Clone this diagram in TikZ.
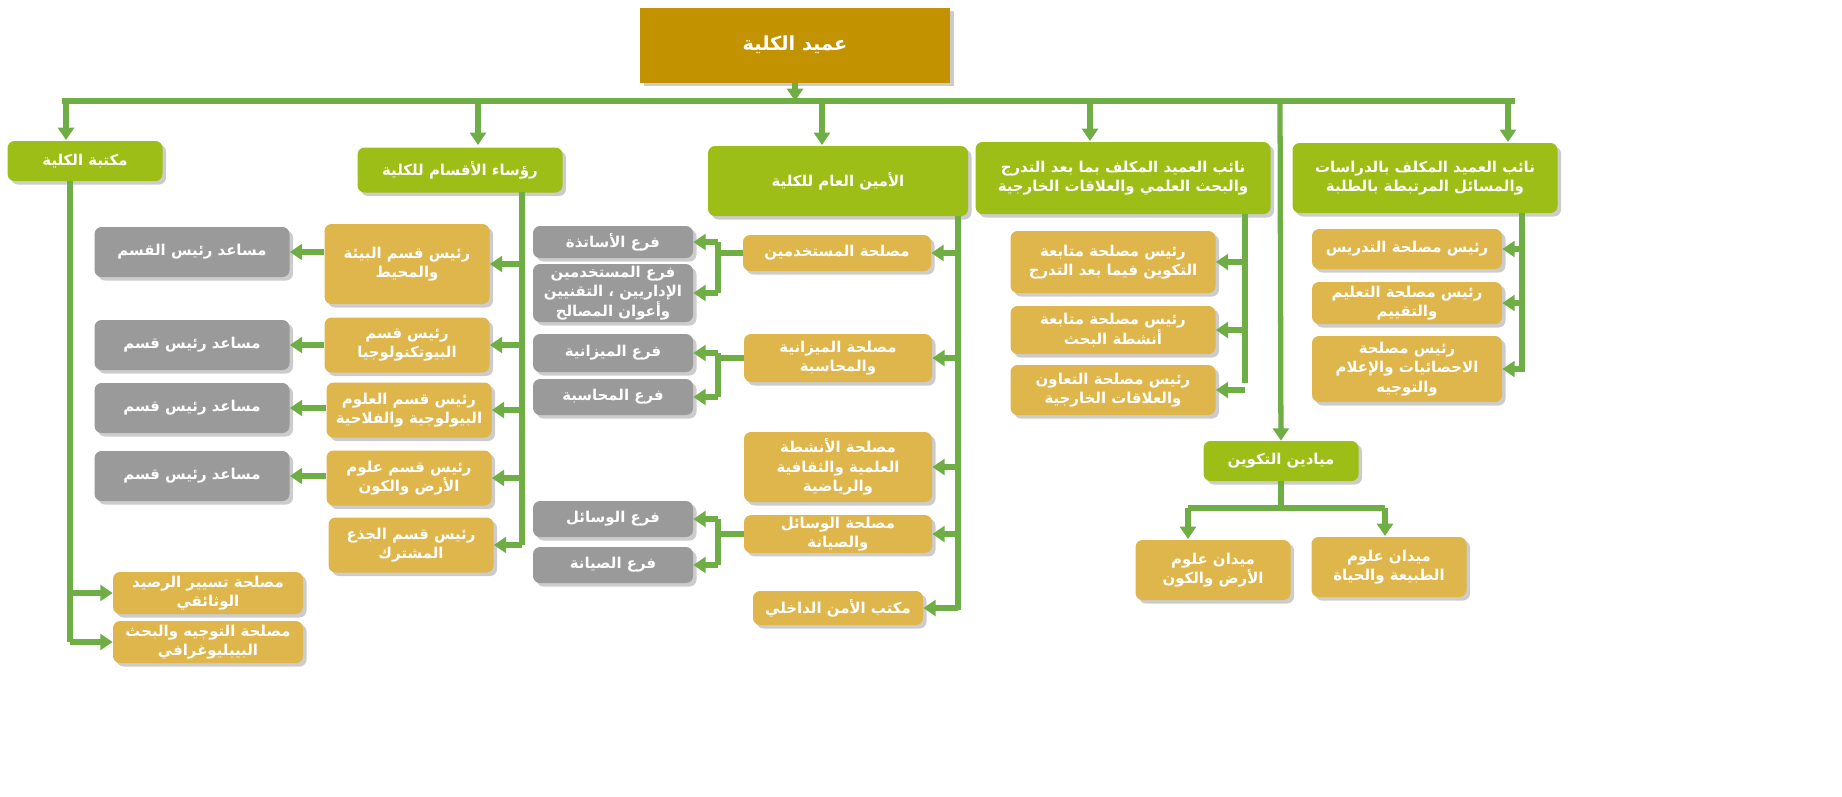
\documentclass[tikz,border=0pt]{standalone}
\usepackage{fontspec}
\newfontfamily\arfont[Script=Arabic]{DejaVu Sans}
\usetikzlibrary{arrows.meta}
\TeXXeTstate=1
\newcommand{\ar}[1]{\beginR #1\endR}
\definecolor{deangold}{HTML}{C29200}
\definecolor{leafgreen}{HTML}{9DBE16}
\definecolor{boxgold}{HTML}{DEB64C}
\definecolor{boxgray}{HTML}{9A9A9A}
\definecolor{linegreen}{HTML}{6FAD45}

\begin{document}
\begin{tikzpicture}[x=0.02cm,y=-0.02cm,>/.tip={Triangle[length=7pt,width=9pt]},
	box/.style={draw=none,rounded corners=4pt,align=center,text=white,font=\arfont\bfseries\fontsize{8.5}{11}\selectfont,preaction={fill=black,opacity=0.2,transform canvas={xshift=2pt,yshift=-2pt}},inner sep=1pt},
	head/.style={box,fill=leafgreen},
	unit/.style={box,fill=boxgold},
	branch/.style={box,fill=boxgray},
	link/.style={draw=linegreen,line width=3pt}]
	\useasboundingbox (0,0) rectangle (1842,796);

	\draw (795,45) node (dean) [box,fill=deangold,rounded corners=0pt,minimum width=310*0.02cm,minimum height=75*0.02cm,font=\arfont\bfseries\fontsize{11}{13}\selectfont] {\ar{عميد الكلية}};

	\draw (85,161) node (lib) [head,minimum width=155*0.02cm,minimum height=40*0.02cm] {\ar{مكتبة الكلية}};
	\draw (460,170) node (heads) [head,minimum width=205*0.02cm,minimum height=45*0.02cm] {\ar{رؤساء الأقسام للكلية}};
	\draw (838,181) node (sg) [head,minimum width=260*0.02cm,minimum height=70*0.02cm] {\ar{الأمين العام للكلية}};
	\draw (1123,178) node (vpg) [head,minimum width=295*0.02cm,minimum height=72*0.02cm] {\ar{نائب العميد المكلف بما بعد التدرج}\\\ar{والبحث العلمي والعلاقات الخارجية}};
	\draw (1425,178) node (vst) [head,minimum width=265*0.02cm,minimum height=70*0.02cm] {\ar{نائب العميد المكلف بالدراسات}\\\ar{والمسائل المرتبطة بالطلبة}};
	\draw (1281,461) node (dom) [head,minimum width=155*0.02cm,minimum height=40*0.02cm] {\ar{ميادين التكوين}};

	% departments
	\draw (407,264) node (d1) [unit,minimum width=165*0.02cm,minimum height=80*0.02cm] {\ar{رئيس قسم البيئة}\\\ar{والمحيط}};
	\draw (407,345) node (d2) [unit,minimum width=165*0.02cm,minimum height=55*0.02cm] {\ar{رئيس قسم}\\\ar{البيوتكنولوجيا}};
	\draw (409,410) node (d3) [unit,minimum width=165*0.02cm,minimum height=55*0.02cm] {\ar{رئيس قسم العلوم}\\\ar{البيولوجية والفلاحية}};
	\draw (409,478) node (d4) [unit,minimum width=165*0.02cm,minimum height=55*0.02cm] {\ar{رئيس قسم علوم}\\\ar{الأرض والكون}};
	\draw (411,545) node (d5) [unit,minimum width=165*0.02cm,minimum height=55*0.02cm] {\ar{رئيس قسم الجذع}\\\ar{المشترك}};
	\draw (192,252) node (a1) [branch,minimum width=195*0.02cm,minimum height=50*0.02cm] {\ar{مساعد رئيس القسم}};
	\draw (192,345) node (a2) [branch,minimum width=195*0.02cm,minimum height=50*0.02cm] {\ar{مساعد رئيس قسم}};
	\draw (192,408) node (a3) [branch,minimum width=195*0.02cm,minimum height=50*0.02cm] {\ar{مساعد رئيس قسم}};
	\draw (192,476) node (a4) [branch,minimum width=195*0.02cm,minimum height=50*0.02cm] {\ar{مساعد رئيس قسم}};

	% library services
	\draw (208,593) node (l1) [unit,minimum width=190*0.02cm,minimum height=42*0.02cm] {\ar{مصلحة تسيير الرصيد}\\\ar{الوثائقي}};
	\draw (208,642) node (l2) [unit,minimum width=190*0.02cm,minimum height=42*0.02cm] {\ar{مصلحة التوجيه والبحث}\\\ar{البيبليوغرافي}};

	% secretary services
	\draw (837,253) node (s1) [unit,minimum width=188*0.02cm,minimum height=36*0.02cm] {\ar{مصلحة المستخدمين}};
	\draw (838,358) node (s2) [unit,minimum width=188*0.02cm,minimum height=48*0.02cm] {\ar{مصلحة الميزانية}\\\ar{والمحاسبة}};
	\draw (838,467) node (s3) [unit,minimum width=188*0.02cm,minimum height=70*0.02cm] {\ar{مصلحة الأنشطة}\\\ar{العلمية والثقافية}\\\ar{والرياضية}};
	\draw (838,534) node (s4) [unit,minimum width=188*0.02cm,minimum height=36*0.02cm] {\ar{مصلحة الوسائل}\\\ar{والصيانة}};
	\draw (838,608) node (s5) [unit,minimum width=170*0.02cm,minimum height=34*0.02cm] {\ar{مكتب الأمن الداخلي}};
	\draw (613,242) node (b1) [branch,minimum width=160*0.02cm,minimum height=32*0.02cm] {\ar{فرع الأساتذة}};
	\draw (613,293) node (b2) [branch,minimum width=160*0.02cm,minimum height=58*0.02cm] {\ar{فرع المستخدمين}\\\ar{الإداريين ، التقنيين}\\\ar{وأعوان المصالح}};
	\draw (613,353) node (b3) [branch,minimum width=160*0.02cm,minimum height=38*0.02cm] {\ar{فرع الميزانية}};
	\draw (613,397) node (b4) [branch,minimum width=160*0.02cm,minimum height=36*0.02cm] {\ar{فرع المحاسبة}};
	\draw (613,519) node (b5) [branch,minimum width=160*0.02cm,minimum height=36*0.02cm] {\ar{فرع الوسائل}};
	\draw (613,565) node (b6) [branch,minimum width=160*0.02cm,minimum height=36*0.02cm] {\ar{فرع الصيانة}};

	% post-graduation
	\draw (1113,262) node (p1) [unit,minimum width=205*0.02cm,minimum height=62*0.02cm] {\ar{رئيس مصلحة متابعة}\\\ar{التكوين فيما بعد التدرج}};
	\draw (1113,330) node (p2) [unit,minimum width=205*0.02cm,minimum height=48*0.02cm] {\ar{رئيس مصلحة متابعة}\\\ar{أنشطة البحث}};
	\draw (1113,390) node (p3) [unit,minimum width=205*0.02cm,minimum height=50*0.02cm] {\ar{رئيس مصلحة التعاون}\\\ar{والعلاقات الخارجية}};

	% studies
	\draw (1407,249) node (t1) [unit,minimum width=190*0.02cm,minimum height=40*0.02cm] {\ar{رئيس مصلحة التدريس}};
	\draw (1407,303) node (t2) [unit,minimum width=190*0.02cm,minimum height=42*0.02cm] {\ar{رئيس مصلحة التعليم}\\\ar{والتقييم}};
	\draw (1407,369) node (t3) [unit,minimum width=190*0.02cm,minimum height=66*0.02cm] {\ar{رئيس مصلحة}\\\ar{الاحصائيات والإعلام}\\\ar{والتوجيه}};

	% domains
	\draw (1213,570) node (f1) [unit,minimum width=155*0.02cm,minimum height=60*0.02cm] {\ar{ميدان علوم}\\\ar{الأرض والكون}};
	\draw (1389,567) node (f2) [unit,minimum width=155*0.02cm,minimum height=60*0.02cm] {\ar{ميدان علوم}\\\ar{الطبيعة والحياة}};

	% connectors
	\coordinate (barL) at (62,101);
	\coordinate (barR) at (1515,101);
	\draw[link] (barL) -- (barR);
	\draw[link,->] (dean) -- (dean |- barL);
	\draw[link,->] (66,101) -- (66,140);
	\draw[link,->] (478,101) -- (478,145);
	\draw[link,->] (822,101) -- (822,145);
	\draw[link,->] (1090,101) -- (1090,141);
	\draw[link,->] (1508,101) -- (1508,142);
	\draw[link,->] (1280,101) -- (dom);

	\coordinate (libT) at (70,181);
	\draw[link] (libT) -- (70,642);
	\foreach \n in {l1,l2} \draw[link,->] (libT |- \n) -- (\n);

	\coordinate (headT) at (522,192);
	\draw[link] (headT) -- (522,545);
	\foreach \n in {d1,d2,d3,d4,d5} \draw[link,->] (headT |- \n) -- (\n);
	\foreach \d/\a in {d1/a1,d2/a2,d3/a3,d4/a4} \draw[link,->] (\d.west |- \a) -- (\a);

	\coordinate (sgT) at (958,216);
	\draw[link] (sgT) -- (958,610);
	\foreach \n in {s1,s2,s3,s4,s5} \draw[link,->] (sgT |- \n) -- (\n);
	\coordinate (fork) at (718,0);
	\foreach \s/\x/\y in {s1/b1/b2,s2/b3/b4,s4/b5/b6} {
		\draw[link] (\s) -- (fork |- \s);
		\draw[link] (fork |- \x) -- (fork |- \y);
		\draw[link,->] (fork |- \x) -- (\x);
		\draw[link,->] (fork |- \y) -- (\y);
	}

	\coordinate (pgT) at (1245,214);
	\draw[link] (pgT) -- (1245,383);
	\foreach \n in {p1,p2,p3} \draw[link,->] (pgT |- \n) -- (\n);

	\coordinate (stT) at (1522,213);
	\draw[link] (stT) -- (1522,372);
	\foreach \n in {t1,t2,t3} \draw[link,->] (stT |- \n) -- (\n);

	\coordinate (domB) at (1281,508);
	\draw[link] (dom) -- (domB);
	\draw[link] (1188,508) -- (1385,508);
	\draw[link,->] (1188,508) -- (1188,539);
	\draw[link,->] (1385,508) -- (1385,536);
\end{tikzpicture}
\end{document}
